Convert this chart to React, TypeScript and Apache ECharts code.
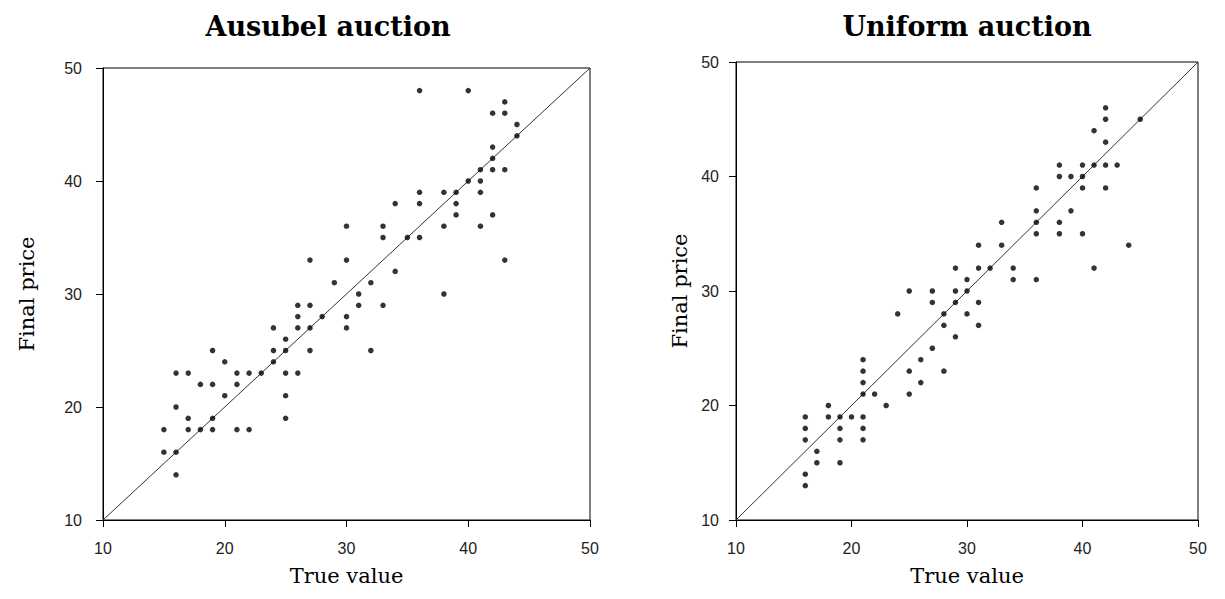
import React, { useEffect, useRef } from "react";
import * as echarts from "echarts";

const axisMin = 10;
const axisMax = 50;
const axisStep = 10;

const ausubelTitle = "Ausubel auction";
const uniformTitle = "Uniform auction";
const xName = "True value";
const yName = "Final price";

// [true value, final price]
const ausubelPoints: number[][] = [
  [29, 31], [26, 29], [27, 29], [26, 28], [28, 28], [30, 28], [24, 27], [26, 27],
  [27, 27], [30, 27], [25, 26], [24, 25], [25, 25], [27, 25], [19, 25], [20, 24],
  [24, 24], [16, 23], [17, 23], [21, 23], [22, 23], [23, 23], [25, 23], [26, 23],
  [18, 22], [19, 22], [21, 22], [20, 21], [25, 21], [16, 20], [17, 19], [19, 19],
  [25, 19], [15, 18], [17, 18], [18, 18], [19, 18], [21, 18], [22, 18], [15, 16],
  [16, 16], [16, 14],
  [36, 48], [40, 48], [43, 47], [42, 46], [43, 46], [44, 45], [44, 44], [42, 43],
  [42, 42], [41, 41], [42, 41], [43, 41], [40, 40], [41, 40], [36, 39], [38, 39],
  [39, 39], [41, 39], [34, 38], [36, 38], [39, 38], [39, 37], [42, 37], [30, 36],
  [33, 36], [38, 36], [41, 36], [33, 35], [35, 35], [36, 35], [30, 33], [43, 33],
  [34, 32], [32, 31], [31, 30], [38, 30], [31, 29], [33, 29], [32, 25], [27, 33],
];

const uniformPoints: number[][] = [
  [30, 31], [25, 30], [27, 30], [29, 30], [30, 30], [27, 29], [29, 29], [24, 28],
  [28, 28], [30, 28], [28, 27], [29, 26], [27, 25], [26, 24], [21, 24], [21, 23],
  [25, 23], [28, 23], [21, 22], [26, 22], [21, 21], [22, 21], [25, 21], [23, 20],
  [18, 20], [16, 19], [18, 19], [19, 19], [20, 19], [21, 19], [16, 18], [19, 18],
  [21, 18], [16, 17], [19, 17], [21, 17], [17, 16], [17, 15], [19, 15], [16, 14],
  [16, 13],
  [42, 46], [42, 45], [45, 45], [41, 44], [42, 43], [38, 41], [40, 41], [41, 41],
  [42, 41], [43, 41], [38, 40], [39, 40], [40, 40], [36, 39], [40, 39], [42, 39],
  [36, 37], [39, 37], [33, 36], [36, 36], [38, 36], [36, 35], [38, 35], [40, 35],
  [31, 34], [33, 34], [44, 34], [31, 32], [32, 32], [34, 32], [41, 32], [34, 31],
  [36, 31], [31, 29], [31, 27], [29, 32],
];

const identityLine: number[][] = [
  [axisMin, axisMin],
  [axisMax, axisMax],
];

export default function App() {
  const ref = useRef<HTMLDivElement>(null);

  useEffect(() => {
    if (!ref.current) return;
    const chart = echarts.init(ref.current, null, { renderer: "svg" });
    const serif = "'DejaVu Serif', 'Liberation Serif', serif";
    const sans = "'Liberation Sans', Arial, sans-serif";

    const mkX = (gridIndex: number, nameGap: number) => ({
      type: "value",
      gridIndex,
      min: axisMin,
      max: axisMax,
      interval: axisStep,
      name: xName,
      nameLocation: "middle",
      nameGap,
      nameTextStyle: { fontFamily: serif, fontSize: 21, color: "#000" },
      axisLine: { show: true, onZero: false, lineStyle: { color: "#000", width: 1 } },
      axisTick: { show: true, length: 7, lineStyle: { color: "#000", width: 1 } },
      axisLabel: { margin: 20, fontFamily: sans, fontSize: 16, color: "#222" },
      splitLine: { show: false },
    });

    const mkY = (gridIndex: number, nameGap: number, labelMargin: number) => ({
      type: "value",
      gridIndex,
      min: axisMin,
      max: axisMax,
      interval: axisStep,
      name: yName,
      nameLocation: "middle",
      nameGap,
      nameRotate: 90,
      nameTextStyle: { fontFamily: serif, fontSize: 21, color: "#000" },
      axisLine: { show: true, onZero: false, lineStyle: { color: "#000", width: 1 } },
      axisTick: { show: true, length: 7, lineStyle: { color: "#000", width: 1 } },
      axisLabel: { margin: labelMargin, fontFamily: sans, fontSize: 16, color: "#222" },
      splitLine: { show: false },
    });

    const scatter = (i: number, data: number[][]) => ({
      type: "scatter",
      xAxisIndex: i,
      yAxisIndex: i,
      data,
      symbol: "circle",
      symbolSize: 5.5,
      itemStyle: { color: "#000" },
      z: 3,
    });

    const diag = (i: number) => ({
      type: "line",
      xAxisIndex: i,
      yAxisIndex: i,
      data: identityLine,
      showSymbol: false,
      symbol: "none",
      lineStyle: { color: "#333", width: 1 },
      silent: true,
      z: 2,
    });

    chart.setOption({
      animation: false,
      backgroundColor: "#fff",
      grid: [
        { left: 95, top: 60, width: 487, height: 457, show: true, borderColor: "#000", borderWidth: 1 },
        { left: 728, top: 54, width: 462, height: 463, show: true, borderColor: "#000", borderWidth: 1 },
      ],
      xAxis: [mkX(0, 45), mkX(1, 45)],
      yAxis: [mkY(0, 66, 21), mkY(1, 46, 17)],
      series: [diag(0), scatter(0, ausubelPoints), diag(1), scatter(1, uniformPoints)],
      graphic: [
        {
          type: "text",
          x: 320,
          y: 18,
          style: {
            text: ausubelTitle,
            textAlign: "center",
            textVerticalAlign: "middle",
            font: `bold 27px ${serif}`,
            fill: "#000",
          },
        },
        {
          type: "text",
          x: 959,
          y: 18,
          style: {
            text: uniformTitle,
            textAlign: "center",
            textVerticalAlign: "middle",
            font: `bold 27px ${serif}`,
            fill: "#000",
          },
        },
      ],
    });

    return () => chart.dispose();
  }, []);

  return <div ref={ref} style={{ width: 1209, height: 583 }} />;
}
